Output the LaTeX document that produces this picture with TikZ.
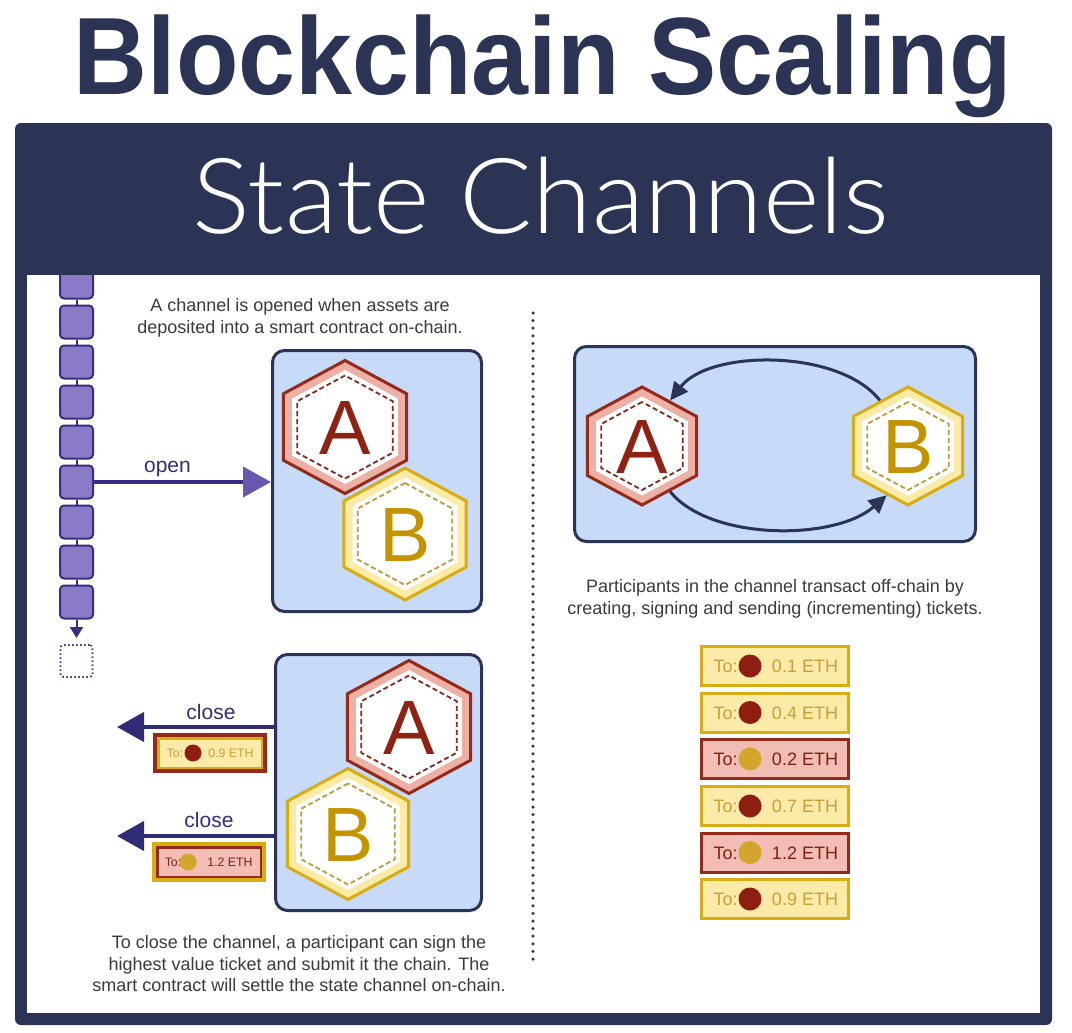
\documentclass[tikz,border=0pt]{standalone}
\usepackage{fontspec}
\setmainfont{Liberation Sans}
\newfontfamily\lightfont{Lato Light}
\usepackage{graphicx}
\usetikzlibrary{shapes.geometric,arrows.meta,positioning}

\definecolor{navy}{HTML}{2B3454}
\definecolor{chanfill}{HTML}{C7DAF7}
\definecolor{bodytext}{HTML}{3B3B3B}
\definecolor{labeltext}{HTML}{33307A}
\definecolor{chainfill}{HTML}{8B7AC8}
\definecolor{chainline}{HTML}{3C2D80}
\definecolor{openline}{HTML}{3A2B86}
\definecolor{openhead}{HTML}{6A58AF}
\definecolor{closeline}{HTML}{2F2B74}
\definecolor{clineA}{HTML}{962A1A}
\definecolor{bandA}{HTML}{ECB0A4}
\definecolor{cdashA}{HTML}{7E2B20}
\definecolor{cletA}{HTML}{8E2313}
\definecolor{clineB}{HTML}{D8AD14}
\definecolor{bandB}{HTML}{FCEBA6}
\definecolor{cdashB}{HTML}{BA9C3C}
\definecolor{cletB}{HTML}{C49300}
\definecolor{fillY}{HTML}{FCEAA8}
\definecolor{fillP}{HTML}{F1BDB4}
\definecolor{txtY}{HTML}{C6A03B}
\definecolor{txtP}{HTML}{7D2214}
\definecolor{dotY}{HTML}{8E1E10}
\definecolor{dotP}{HTML}{D2A62C}

\tikzset{
  maintitle/.style={anchor=base, text=navy, font=\bfseries\fontsize{110}{110}\selectfont, inner sep=0pt},
  subtitle/.style={anchor=base, text=white, font=\lightfont\fontsize{105}{105}\selectfont, inner sep=0pt},
  body/.style={text=bodytext, font=\fontsize{18}{21.5}\selectfont, align=center, inner sep=0pt},
  actlabel/.style={anchor=base, text=labeltext, font=\fontsize{21}{21}\selectfont, inner sep=0pt},
  chanbox/.style={draw=navy, fill=chanfill, line width=3pt, rounded corners=12pt, inner sep=0pt},
  block/.style={draw=chainline, fill=chainfill, line width=2pt, rounded corners=4pt, minimum size=33pt, inner sep=0pt},
  nextblock/.style={draw=chainline, dash pattern=on 1.5pt off 2.5pt, line width=1.8pt, rounded corners=3pt, minimum size=32pt, inner sep=0pt},
  link/.style={draw=chainline, line width=2pt},
  openarr/.style={draw=openline, line width=4pt, -{Triangle[length=28pt,width=30pt,color=openhead]}},
  closearr/.style={draw=closeline, line width=4pt, -{Triangle[length=27pt,width=29pt]}},
  downarr/.style={draw=chainline, line width=2pt, -{Triangle[length=11pt,width=13pt]}},
  flow/.style={draw=navy, line width=3pt, -{Triangle[length=18pt,width=17pt]}},
  divider/.style={draw=bodytext, line width=3.5pt, line cap=round, dash pattern=on 0pt off 7.6pt},
  hexout/.style={regular polygon, regular polygon sides=6, shape border rotate=30, xscale=1.07, inner sep=0pt, line width=3pt},
  hexA/.style={draw=clineA, fill=bandA},
  hexB/.style={draw=clineB, fill=bandB},
  hexin/.style={regular polygon, regular polygon sides=6, shape border rotate=30, xscale=1.07, inner sep=0pt, fill=white},
  letter/.style={anchor=base, font=\fontsize{77}{77}\selectfont, inner sep=0pt},
  ticketY/.style={rectangle, draw=clineB, fill=fillY, line width=3pt, minimum width=147pt, minimum height=39pt, inner sep=0pt},
  ticketP/.style={rectangle, draw=clineA, fill=fillP, line width=3pt, minimum width=147pt, minimum height=39pt, inner sep=0pt},
  tktext/.style={anchor=base, font=\fontsize{18}{18}\selectfont, inner sep=0pt},
  tkdot/.style={circle, minimum size=23pt, inner sep=0pt},
  cticket/.style={rectangle, minimum width=114pt, minimum height=40pt, inner sep=0pt},
  cinner/.style={rectangle, line width=2.5pt, minimum width=103.5pt, minimum height=29.5pt, inner sep=0pt},
  ctext/.style={anchor=base, font=\fontsize{12.3}{12.3}\selectfont, inner sep=0pt},
  cdot/.style={circle, minimum size=17pt, inner sep=0pt}
}

% hexagon: name, position, diameter, kind, letter
\newcommand{\hexnode}[5]{%
  \node[hexout, hex#4, minimum size=#3] (#1) at (#2) {};
  \node[hexin, minimum size=#3-19] (#1i) at (#1) {};
  \node[hexin, fill=none, draw=cdash#4, dash pattern=on 5pt off 3pt, line width=1.8pt, minimum size=#3-30] (#1d) at (#1) {};
  \node[letter, text=clet#4] (#1l) at ([yshift=-27pt]#1.center) {#5};
}

\begin{document}
\begin{tikzpicture}[x=1pt,y=-1pt]
  \useasboundingbox (0,0) rectangle (1072,1033);
  \fill[white] (0,0) rectangle (1072,1033);

  % heading
  \node[maintitle] (ttl) at (543,95) {\scalebox{0.93}[1]{Blockchain Scaling}};
  \fill[navy, rounded corners=6pt] (15,123) rectangle (1052,1025);
  \fill[white] (27,275) rectangle (1040,1013);
  \node[subtitle] (sub) at (541,233) {\scalebox{1.03}[1]{State Channels}};

  % chain
  \begin{scope}
    \clip (27,275) rectangle (1040,1013);
    \foreach \i in {1,...,9}
      \node[block] (b\i) at (76.5,{242+40*\i}) {};
    \foreach \i [evaluate=\i as \j using int(\i+1)] in {1,...,8}
      \draw[link] (b\i.south) -- (b\j.north);
  \end{scope}
  \coordinate (e3) at (76.5,638);
  \draw[downarr] (b9.south) -- (e3);
  \node[nextblock] (b10) at (76.5,661) {};

  % opening the channel
  \node[body] (t1) at (300,318) {A channel is opened when assets are\\deposited into a smart contract on-chain.};
  \node[chanbox, minimum width=209pt, minimum height=261pt] (up) at (377,481) {};
  \hexnode{uA}{345,427}{133}{A}{A}
  \hexnode{uB}{405,534}{132}{B}{B}
  \draw[openarr] (b6.east) -- (b6 -| up.west);
  \node[actlabel] (lopen) at (167.5,472) {open};

  % closing the channel
  \node[chanbox, minimum width=206pt, minimum height=256pt] (low) at (378.5,782.5) {};
  \hexnode{lA}{409,727}{133}{A}{A}
  \hexnode{lB}{348,834}{131}{B}{B}
  \coordinate (e1) at (117,727);
  \coordinate (e2) at (117,836);
  \draw[closearr] (low.west |- e1) -- (e1);
  \draw[closearr] (low.west |- e2) -- (e2);
  \node[actlabel] (lclose1) at (211,719) {close};
  \node[actlabel] (lclose2) at (209,827) {close};

  \node[cticket, fill=clineA] (c1) at (210,753) {};
  \node[cinner, draw=clineB, fill=fillY] (c1i) at (c1) {};
  \node[ctext, text=txtY] (c1to) at ([xshift=-35pt,yshift=-4.4pt]c1.center) {To:};
  \node[cdot, fill=dotY] (c1dot) at ([xshift=-17pt]c1.center) {};
  \node[ctext, text=txtY] (c1val) at ([xshift=21pt,yshift=-4.4pt]c1.center) {0.9 ETH};

  \node[cticket, fill=clineB] (c2) at (209,862) {};
  \node[cinner, draw=clineA, fill=fillP] (c2i) at (c2) {};
  \node[ctext, text=txtP] (c2to) at ([xshift=-36pt,yshift=-4.4pt]c2.center) {To:};
  \node[cdot, fill=dotP] (c2dot) at ([xshift=-21pt]c2.center) {};
  \node[ctext, text=txtP] (c2val) at ([xshift=21pt,yshift=-4.4pt]c2.center) {1.2 ETH};

  \node[body] (t3) at (299,964) {To close the channel, a participant can sign the\\highest value ticket and submit it the chain. The\\smart contract will settle the state channel on-chain.};

  % divider
  \draw[divider] (533,313) -- (533,962);

  % off-chain
  \node[chanbox, minimum width=401pt, minimum height=195pt] (rbox) at (775,444) {};
  \hexnode{rA}{642,446}{118}{A}{A}
  \hexnode{rB}{908,446}{118}{B}{B}
  \draw[flow] (rB.120) .. controls (840,349) and (710,349) .. (rA.60);
  \draw[flow] (rA.-60) .. controls (710,541) and (835,541) .. (rB.-112);

  \node[body] (t2) at (775,599) {Participants in the channel transact off-chain by\\creating, signing and sending (incrementing) tickets.};

  % tickets
  \foreach \y/\kind/\v [count=\i] in {666/Y/0.1, 712.5/Y/0.4, 759/P/0.2, 806/Y/0.7, 852.5/P/1.2, 899/Y/0.9} {
    \node[ticket\kind] (t\i) at (775,\y) {};
    \node[tktext, text=txt\kind] (t\i to) at ([xshift=-49.5pt,yshift=-6.5pt]t\i.center) {To:};
    \node[tkdot, fill=dot\kind] (t\i dot) at ([xshift=-25pt]t\i.center) {};
    \node[tktext, text=txt\kind] (t\i val) at ([xshift=30pt,yshift=-6.5pt]t\i.center) {\v\ ETH};
  }
\end{tikzpicture}
\end{document}
